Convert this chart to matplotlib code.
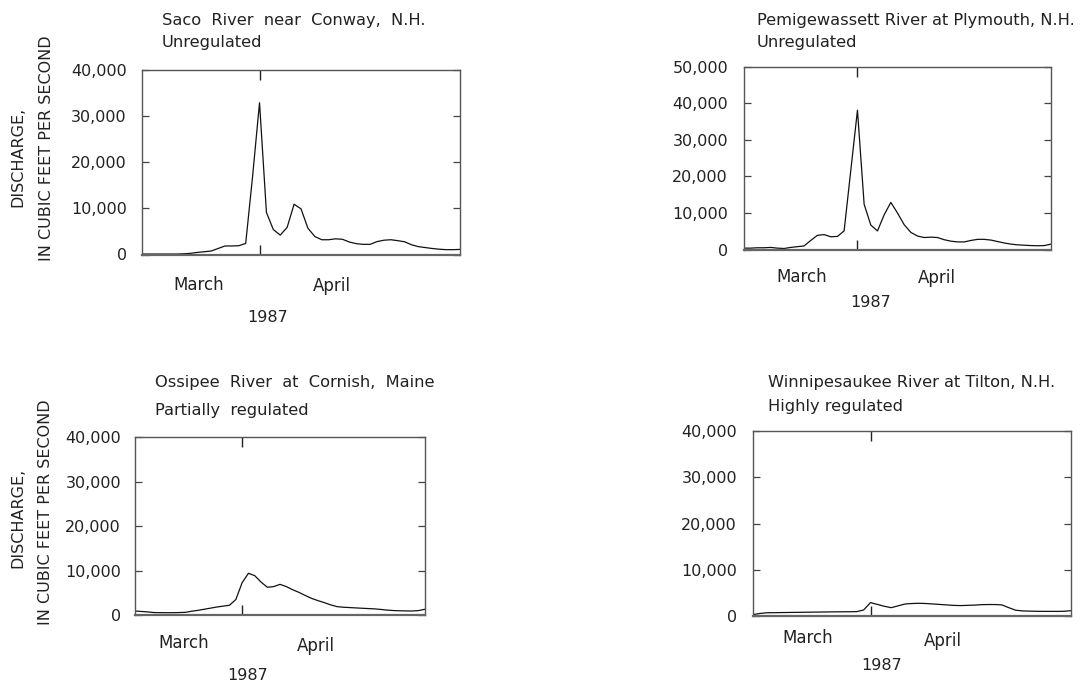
import matplotlib
matplotlib.use("Agg")
import matplotlib.pyplot as plt

# Days relative to April 1, 1987 (March 15 .. April 30)
days = list(range(-17, 30))

saco = [100, 100, 100, 100, 100, 100, 150, 250, 450, 600, 750, 1300, 1850, 1850, 1900, 2400,
        17000, 32900, 9100, 5400, 4200, 5900, 10900, 9900, 5700, 3900, 3200, 3200, 3400, 3300,
        2700, 2350, 2200, 2200, 2800, 3100, 3200, 3000, 2750, 2100, 1700, 1500, 1300, 1150,
        1050, 1050, 1100]

pemi = [400, 400, 500, 500, 600, 400, 300, 600, 800, 1000, 2500, 3900, 4100, 3500, 3600, 5100,
        21600, 38100, 12400, 6700, 5100, 9500, 12900, 10000, 6800, 4700, 3700, 3300, 3400, 3300,
        2700, 2300, 2100, 2100, 2500, 2800, 2800, 2600, 2200, 1800, 1500, 1300, 1200, 1100,
        1050, 1100, 1500]

ossipee = [900, 800, 700, 550, 530, 520, 520, 550, 600, 850, 1050, 1300, 1550, 1800, 2000, 2200,
           3500, 7300, 9400, 8850, 7400, 6250, 6400, 6900, 6400, 5700, 5100, 4400, 3750, 3250,
           2800, 2300, 1900, 1750, 1680, 1600, 1520, 1450, 1380, 1250, 1100, 1000, 950, 920,
           900, 1000, 1300]

winni = [300, 550, 700, 720, 740, 760, 780, 800, 820, 840, 860, 880, 900, 910, 920, 940,
         1300, 2900, 2500, 2100, 1800, 2200, 2600, 2700, 2750, 2700, 2600, 2500, 2400, 2300,
         2250, 2300, 2350, 2450, 2480, 2480, 2400, 1800, 1250, 1100, 1050, 1020, 1000, 1000,
         1000, 1020, 1150]

titles = [("Saco River near Conway, N.H.", "Unregulated"),
          ("Pemigewassett River at Plymouth, N.H.", "Unregulated"),
          ("Ossipee River at Cornish, Maine", "Partially regulated"),
          ("Winnipesaukee River at Tilton, N.H.", "Highly regulated")]
yticks_sets = [[0, 10000, 20000, 30000, 40000],
               [0, 10000, 20000, 30000, 40000, 50000],
               [0, 10000, 20000, 30000, 40000],
               [0, 10000, 20000, 30000, 40000]]
month_labels = ["March", "April"]
year_label = "1987"
ylabel_lines = ["DISCHARGE,", "IN CUBIC FEET PER SECOND"]
series = [saco, pemi, ossipee, winni]

W, H = 1090, 691
fig = plt.figure(figsize=(W / 100, H / 100), dpi=100)
TXT = "#222222"
FONT = "DejaVu Sans"
plt.rcParams['font.family'] = [FONT]

# axes boxes in pixels: left, right, top, bottom
boxes = [(142, 460, 70, 254.5), (744, 1051, 66.6, 249.6),
         (135, 425, 437.4, 615), (753, 1071, 431, 616)]
title_pos = [(162, 20, 43), (757, 20, 43), (155, 383, 410), (768, 383, 407)]
title_gap = [2, 1, 2, 1]
march_pos = [(199, 285), (802, 277), (184, 643), (808, 638)]
april_pos = [(332, 286), (937, 278), (316, 646), (943, 641)]
year_pos = [(268, 317), (871, 302), (248, 675), (882, 666)]
pads = [11, 11.5, 10, 11.5]


def fx(px):
    return px / W


def fy(py):
    return 1 - py / H


def spaced(s, n):
    # reference typesetting uses wide word spacing
    return (" " * n).join(s.split(" "))


for i in range(4):
    l, r, t, b = boxes[i]
    ax = fig.add_axes([fx(l), fy(b), (r - l) / W, (b - t) / H])
    ax.plot(days, series[i], color="#111111", lw=0.9)
    yt = yticks_sets[i]
    ax.set_xlim(days[0], days[-1])
    ax.set_ylim(0, yt[-1])
    ax.set_yticks(yt)
    ax.set_yticklabels([f"{v:,}" for v in yt])
    ax.set_xticks([0])
    ax.set_xticklabels([])
    ax.tick_params(axis="y", direction="in", left=True, right=True, length=5,
                   width=0.9, color="#444444", labelsize=11.5, labelcolor=TXT, pad=pads[i])
    ax.tick_params(axis="x", direction="in", top=True, bottom=True, length=7,
                   width=1.0, color="#222222")
    for s in ax.spines.values():
        s.set_color("#555555")
        s.set_linewidth(1.0)
    ax.spines["bottom"].set_linewidth(1.6)
    ax.spines["bottom"].set_color("#666666")

    tx, ty1, ty2 = title_pos[i]
    fig.text(fx(tx), fy(ty1), spaced(titles[i][0], title_gap[i]), ha="left", va="center",
             fontsize=11.7, color=TXT)
    fig.text(fx(tx), fy(ty2), spaced(titles[i][1], title_gap[i]), ha="left", va="center",
             fontsize=11.7, color=TXT)
    fig.text(fx(march_pos[i][0]), fy(march_pos[i][1]), month_labels[0], ha="center",
             va="center", fontsize=12, color=TXT)
    fig.text(fx(april_pos[i][0]), fy(april_pos[i][1]), month_labels[1], ha="center",
             va="center", fontsize=12, color=TXT)
    fig.text(fx(year_pos[i][0]), fy(year_pos[i][1]), year_label, ha="center",
             va="center", fontsize=11.5, color=TXT)

# shared y-axis labels (left column)
for (x1, y1, x2, y2) in [(18, 157, 47, 148), (18, 518, 46, 512)]:
    fig.text(fx(x1), fy(y1), ylabel_lines[0], rotation=90, ha="center", va="center",
             fontsize=11.5, color=TXT)
    fig.text(fx(x2), fy(y2), ylabel_lines[1], rotation=90, ha="center", va="center",
             fontsize=11.5, color=TXT)

fig.savefig("out.png", dpi=100, facecolor="white")
